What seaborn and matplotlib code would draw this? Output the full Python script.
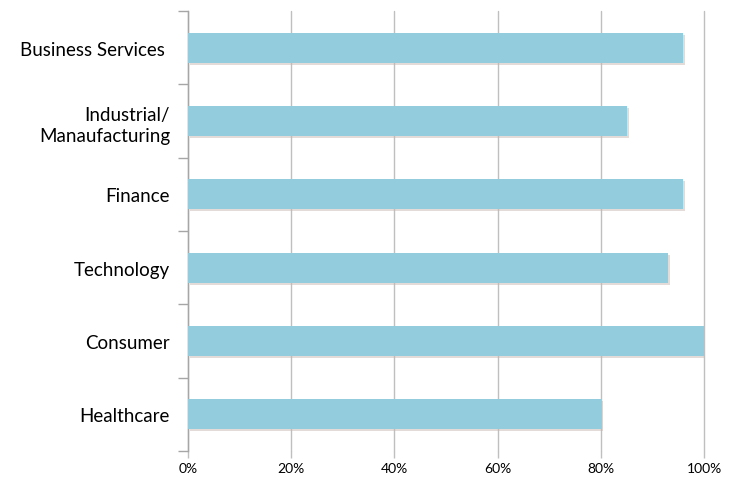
import matplotlib
matplotlib.use("Agg")
import matplotlib.pyplot as plt
import matplotlib.patheffects as pe
import seaborn as sns
import pandas as pd
import numpy as np
from matplotlib.ticker import FixedLocator, PercentFormatter

categories = ["Business Services ", "Industrial/\nManaufacturing", "Finance",
              "Technology", "Consumer", "Healthcare"]
values = [96, 85, 96, 93, 100, 80]
x_ticks = [0, 20, 40, 60, 80, 100]

sns.set_theme(style="white")
plt.rcParams['font.family'] = ['Lato', 'DejaVu Sans']

df = pd.DataFrame({"category": categories, "value": values})

fig = plt.figure(figsize=(7.33, 4.81), dpi=100)
ax = fig.add_axes([188/733, 1-452/481, (704-188)/733, (452-12)/481])

sns.barplot(data=df, x="value", y="category", orient="h", color="#93CDDD",
            saturation=1, width=0.41, ax=ax, zorder=3, linewidth=0, edgecolor="none")
for p in ax.patches:
    p.set_path_effects([pe.SimplePatchShadow(offset=(1.5, -1.5), shadow_rgbFace="#c8b8b0", alpha=0.5), pe.Normal()])

ax.set_xlim(0, 100)
ax.set_ylim(len(categories) - 0.5, -0.5)
ax.set_xticks(x_ticks)
ax.xaxis.set_major_formatter(PercentFormatter(decimals=0))
ax.grid(axis="x", color="#BFBFBF", linewidth=1, zorder=0)
for gl in ax.get_xgridlines():
    gl.set_clip_on(False)
ax.set_axisbelow(True)
ax.set_xlabel("")
ax.set_ylabel("")

for s in ["top", "right", "bottom"]:
    ax.spines[s].set_visible(False)
ax.spines["left"].set_color("#A6A6A6")
ax.spines["left"].set_linewidth(1)

ax.yaxis.set_minor_locator(FixedLocator(np.arange(-0.5, len(categories), 1.0)))
ax.tick_params(axis="y", which="major", length=0, pad=13, labelsize=13.5, labelcolor="#000000")
ax.tick_params(axis="y", which="minor", length=7, width=1, color="#A6A6A6", left=True, direction="out")
ax.tick_params(axis="x", which="major", length=5, width=1, color="#BFBFBF", bottom=True,
               direction="out", labelsize=10, pad=3, labelcolor="#000000")
for lbl in ax.get_yticklabels():
    lbl.set_horizontalalignment("right")
    lbl.set_multialignment("right")
    lbl.set_linespacing(1.35)

fig.savefig("out.png", dpi=100, facecolor="white")
